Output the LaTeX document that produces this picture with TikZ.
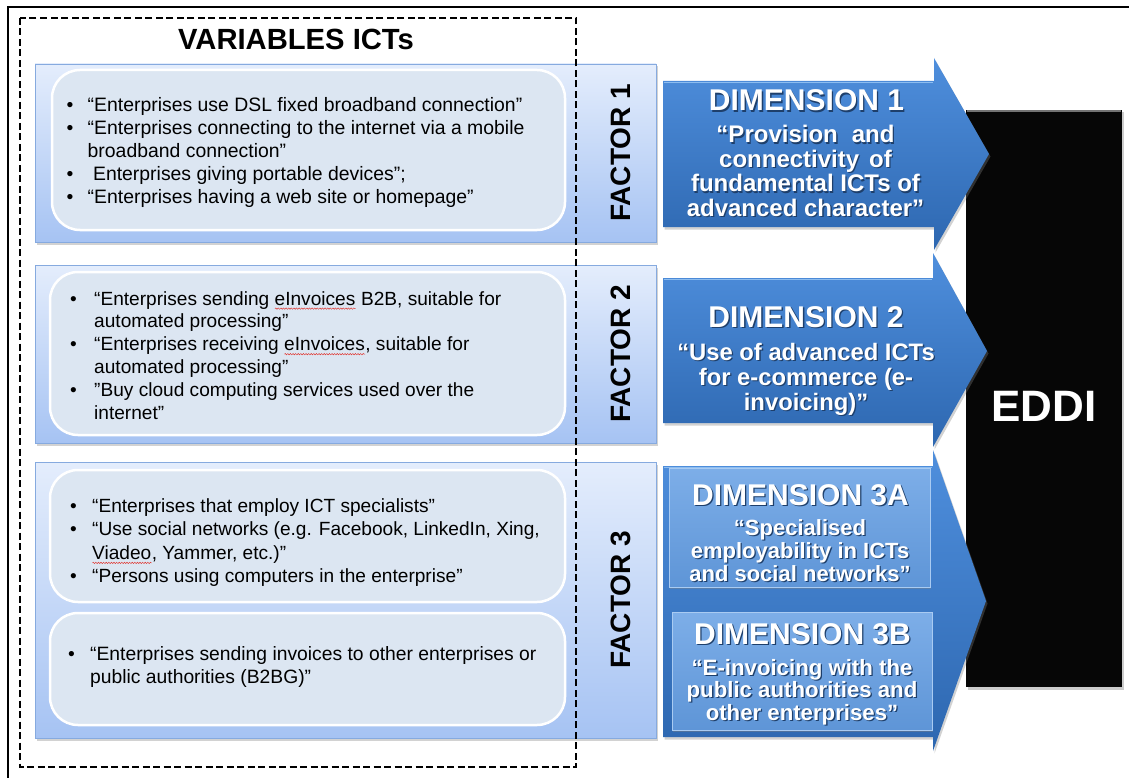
\documentclass[tikz,border=0pt]{standalone}
\usepackage{fontspec}
\setmainfont{Liberation Sans}
\usetikzlibrary{shadows,decorations.pathmorphing}

\definecolor{panelTop}{HTML}{E4EDFC}
\definecolor{panelBot}{HTML}{A6C3F3}
\definecolor{panelEdge}{HTML}{86AADF}
\definecolor{innerFill}{HTML}{DCE6F2}
\definecolor{arrowTop}{HTML}{4F8FDD}
\definecolor{arrowBot}{HTML}{2D67B0}
\definecolor{arrowHi}{HTML}{8DBDF0}
\definecolor{dimTop}{HTML}{7DAEE8}
\definecolor{dimBot}{HTML}{5E95D7}
\definecolor{dimEdge}{HTML}{A9CBF2}
\definecolor{txtShade}{HTML}{1E3F6B}
\definecolor{spellRed}{HTML}{E0302A}

% bullet lists and centred label lines
\newlength\bind
\newlength\linew
\newsavebox\sqbox
\newcommand\bitem[1]{\hbox{\makebox[\bind][l]{\textbullet}#1}}
\newcommand\bcont[1]{\hbox{\hspace*{\bind}#1}}
\newcommand\sh[1]{\leavevmode\rlap{\hspace{1.3pt}\raisebox{-1.3pt}{\textcolor{txtShade}{#1}}}#1}
\newcommand\cl[1]{\hbox to \linew{\hss\sh{#1}\hss}}
% word with a red wavy underline
\newcommand\squig[1]{\sbox\sqbox{#1}\rlap{\usebox\sqbox}%
  \tikz[baseline=0pt,x=1pt,y=1pt]\draw[spellRed,line width=0.45pt,decorate,
    decoration={snake,amplitude=0.7pt,segment length=2.6pt}] (0,-3.6) -- (\wd\sqbox,-3.6);}

\begin{document}
\begin{tikzpicture}[x=1pt,y=-1pt,
  panel/.style={top color=panelTop,bottom color=panelBot,draw=panelEdge,line width=0.8pt,
    drop shadow={shadow xshift=2pt,shadow yshift=-2.5pt,opacity=.35}},
  innerbox/.style={fill=innerFill,draw=white,line width=2.5pt,rounded corners=28pt},
  bigarrow/.style={top color=arrowTop,bottom color=arrowBot,
    drop shadow={shadow xshift=1.5pt,shadow yshift=-2.5pt,opacity=.35}},
  dimbox/.style={top color=dimTop,bottom color=dimBot,draw=dimEdge,line width=0.8pt,
    drop shadow={shadow xshift=1pt,shadow yshift=-2pt,opacity=.4}},
  listtext/.style={inner sep=0pt,text=black},
  factor/.style={rotate=90,inner sep=0pt,font=\fontsize{28}{30}\selectfont\bfseries},
  dimtitle/.style={inner sep=0pt,anchor=base,text=white,font=\fontsize{30}{32}\selectfont\bfseries},
  dimtext/.style={inner sep=0pt,anchor=base,text=white},
]
\useasboundingbox (0,0) rectangle (1129,778);
\fill[white] (0,0) rectangle (1129,778);

% outer frame
\draw[line width=1.3pt] (8,778) -- (8,7) -- (1129,7);

% factor panels
\path[panel] (35,64) rectangle (656,242);
\path[panel] (35,265) rectangle (656,443);
\path[panel] (35,462) rectangle (656,738);

\path[innerbox] (52,70) rectangle (565,230);
\path[innerbox] (50,272) rectangle (565,435);
\path[innerbox] (50,470) rectangle (565,602);
\path[innerbox] (50,613) rectangle (565,725);

% EDDI block (under the arrow tips)
\path[fill={rgb,255:red,6;green,6;blue,6},drop shadow={shadow xshift=1.5pt,shadow yshift=-2.5pt,opacity=.4}] (966,110) rectangle (1122,687);
\draw[black!55,line width=1.4pt] (967,111.2) -- (1121,111.2);
\node[inner sep=0pt,anchor=base,text=white,font=\fontsize{44}{46}\selectfont\bfseries] (eddi) at (1044,421) {EDDI};

% dimension arrows
\path[bigarrow] (663,81) -- (934,81) -- (934,58) -- (989,154) -- (934,250) -- (934,227) -- (663,227) -- cycle;
\path[bigarrow] (663,278) -- (933,278) -- (933,253) -- (987,351) -- (933,447) -- (933,423) -- (663,423) -- cycle;
\path[bigarrow] (663,466) -- (933,466) -- (933,450) -- (986,601) -- (933,751) -- (933,737) -- (663,737) -- cycle;
\draw[arrowHi,line width=1.6pt] (664,82.5) -- (933,82.5);
\draw[arrowHi,line width=1.6pt] (664,279.5) -- (932,279.5);
\draw[arrowHi,line width=1.6pt] (664,467.5) -- (932,467.5);

\path[dimbox] (669,468) rectangle (930,587);
\path[dimbox] (672,612) rectangle (932,730);

% heading
\node[inner sep=0pt,anchor=base,font=\fontsize{29.2}{31}\selectfont\bfseries] (varhead) at (296,50) {VARIABLES ICTs};

% factor labels
\node[factor] (fac1) at (621,153) {FACTOR 1};
\node[factor] (fac2) at (621,354) {FACTOR 2};
\node[factor] (fac3) at (621,600) {FACTOR 3};

% variable lists
\node[listtext,anchor=base west,font=\fontsize{19.4}{23.1}\selectfont] (list1) at (66.5,111.5) {\setlength\bind{21pt}\vtop{%
  \bitem{“Enterprises use DSL fixed broadband connection”}
  \bitem{“Enterprises connecting to the internet via a mobile}
  \bcont{broadband connection”}
  \bitem{\ Enterprises giving portable devices”;}
  \bitem{“Enterprises having a web site or homepage”}}};

\node[listtext,anchor=base west,font=\fontsize{19.1}{22.8}\selectfont] (list2) at (70,305) {\setlength\bind{24pt}\vtop{%
  \bitem{“Enterprises sending \squig{eInvoices} B2B, suitable for}
  \bcont{automated processing”}
  \bitem{“Enterprises receiving \squig{eInvoices}, suitable for}
  \bcont{automated processing”}
  \bitem{”Buy cloud computing services used over the}
  \bcont{internet”}}};

\node[listtext,anchor=base west,font=\fontsize{19.1}{23.4}\selectfont] (list3) at (70,512.5) {\setlength\bind{22pt}\vtop{%
  \bitem{“Enterprises that employ ICT specialists”}
  \bitem{“Use social networks (e.g. Facebook, LinkedIn, Xing,}
  \bcont{\squig{Viadeo}, Yammer, etc.)”}
  \bitem{“Persons using computers in the enterprise”}}};

\node[listtext,anchor=base west,font=\fontsize{19.3}{23}\selectfont] (list4) at (68,660) {\setlength\bind{22pt}\vtop{%
  \bitem{“Enterprises sending invoices to other enterprises or}
  \bcont{public authorities (B2BG)”}}};

% dimension labels
\node[dimtitle] (d1title) at (806.5,111) {\sh{DIMENSION 1}};
\node[dimtext,font=\fontsize{24}{24.5}\selectfont\bfseries] (d1text) at (805.5,143) {\setlength\linew{260pt}\vtop{%
  \cl{“Provision\hspace{14pt}and}
  \cl{connectivity\hspace{10pt}of}
  \cl{fundamental ICTs of}
  \cl{advanced character”}}};

\node[dimtitle] (d2title) at (806,327) {\sh{DIMENSION 2}};
\node[dimtext,font=\fontsize{23.8}{25}\selectfont\bfseries] (d2text) at (806,360) {\setlength\linew{280pt}\vtop{%
  \cl{“Use of advanced ICTs}
  \cl{for e-commerce (e-}
  \cl{invoicing)”}}};

\node[dimtitle] (d3atitle) at (800.5,505) {\sh{DIMENSION 3A}};
\node[dimtext,font=\fontsize{22}{23}\selectfont\bfseries] (d3atext) at (800,535) {\setlength\linew{260pt}\vtop{%
  \cl{“Specialised}
  \cl{employability in ICTs}
  \cl{and social networks”}}};

\node[dimtitle] (d3btitle) at (802.5,644) {\sh{DIMENSION 3B}};
\node[dimtext,font=\fontsize{22.2}{22.5}\selectfont\bfseries] (d3btext) at (802,675) {\setlength\linew{260pt}\vtop{%
  \cl{“E-invoicing with the}
  \cl{public authorities and}
  \cl{other enterprises”}}};

% dashed grouping of the variables
\draw[line width=2.4pt,dash pattern=on 7pt off 3.5pt] (20,18) rectangle (576,767);
\end{tikzpicture}
\end{document}
